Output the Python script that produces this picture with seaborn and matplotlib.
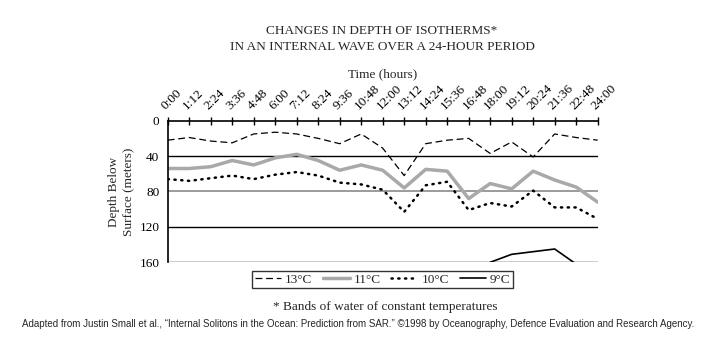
import matplotlib
matplotlib.use("Agg")
import matplotlib.pyplot as plt
import seaborn as sns
import numpy as np

tick_labels = ["0:00", "1:12", "2:24", "3:36", "4:48", "6:00", "7:12", "8:24", "9:36",
               "10:48", "12:00", "13:12", "14:24", "15:36", "16:48", "18:00", "19:12",
               "20:24", "21:36", "22:48", "24:00"]
hours = [0.0, 1.2, 2.4, 3.6, 4.8, 6.0, 7.2, 8.4, 9.6, 10.8, 12.0, 13.2, 14.4, 15.6,
         16.8, 18.0, 19.2, 20.4, 21.6, 22.8, 24.0]

depth_13 = [22, 19, 23, 25, 15, 13, 15, 20, 26, 15, 31, 62, 26, 22, 20, 37, 24, 41, 15, 19, 22]
depth_11 = [54, 54, 52, 45, 50, 42, 38, 45, 56, 50, 56, 76, 55, 57, 88, 71, 77, 57, 67, 75, 92]
depth_10 = [66, 68, 65, 62, 66, 61, 58, 62, 70, 72, 78, 103, 73, 69, 101, 93, 97, 79, 98, 98, 111]
hours_9 = [18.0, 19.2, 20.4, 21.6, 22.8]
depth_9 = [160, 151, 148, 145, 162]

depth_ticks = [0, 40, 80, 120, 160]

sns.set_theme(style="white")
plt.rcParams['font.family'] = ['Liberation Serif', 'DejaVu Serif']

fig = plt.figure(figsize=(7.18, 3.38), dpi=100)
ax = fig.add_axes([0.2336, 0.224, 0.8324 - 0.2336, 0.6429 - 0.224])

for d, c, lw in [(40, 'black', 1.0), (80, '#8a8a8a', 1.2), (120, 'black', 1.0), (160, 'black', 1.0)]:
    ax.axhline(d, color=c, lw=lw, zorder=1)

sns.lineplot(x=hours, y=depth_13, ax=ax, color='black', lw=0.9,
             linestyle=(0, (5.5, 3)), label='13°C', zorder=3)
sns.lineplot(x=hours, y=depth_11, ax=ax, color='#a9a9a9', lw=2.5,
             label='11°C', zorder=2)
sns.lineplot(x=hours, y=depth_10, ax=ax, color='black', lw=1.8,
             linestyle=(0, (0.5, 2.2)), label='10°C', zorder=3)
ax.lines[-1].set_dash_capstyle('round')
sns.lineplot(x=hours_9, y=depth_9, ax=ax, color='black', lw=1.2,
             label='9°C', zorder=3)

ax.set_xlim(0, 24)
ax.set_ylim(160, 0)
ax.set_xticks(hours)
ax.set_xticklabels(tick_labels, rotation=45, ha='left', va='bottom',
                   rotation_mode='anchor', fontsize=9.5)
ax.xaxis.tick_top()
ax.xaxis.set_label_position('top')
ax.set_yticks(depth_ticks)
ax.set_yticklabels([str(t) for t in depth_ticks], fontsize=9.5)
ax.tick_params(axis='x', direction='inout', length=6, width=1, pad=3, colors='black')
ax.tick_params(axis='y', direction='out', length=4, width=1, pad=2, colors='black')
for s in ['right', 'bottom']:
    ax.spines[s].set_visible(False)
for s in ['top', 'left']:
    ax.spines[s].set_color('black')
    ax.spines[s].set_linewidth(1.2)

ax.set_xlabel('Time (hours)', fontsize=9.5, labelpad=4)
ax.set_ylabel('Depth Below\nSurface (meters)', fontsize=9.5, labelpad=3, linespacing=1.35)

leg = ax.legend(loc='center', bbox_to_anchor=(0.5, -0.121), ncol=4, frameon=True,
                fancybox=False, edgecolor='black', fontsize=9.5, handlelength=2.0,
                handletextpad=0.3, columnspacing=0.8, borderpad=0.2, borderaxespad=0)
leg.get_frame().set_linewidth(1.0)

fig.text(0.532, 0.908, 'CHANGES IN DEPTH OF ISOTHERMS*', ha='center', va='center', fontsize=9.5)
fig.text(0.532, 0.860, 'IN AN INTERNAL WAVE OVER A 24-HOUR PERIOD', ha='center', va='center', fontsize=9.5)
fig.text(0.537, 0.092, '* Bands of water of constant temperatures', ha='center', va='center', fontsize=9.5)
fig.text(0.499, 0.040,
         'Adapted from Justin Small et al., \u201cInternal Solitons in the Ocean: Prediction from SAR.\u201d \u00a91998 by Oceanography, Defence Evaluation and Research Agency.',
         ha='center', va='center', fontsize=7.0, family=['Liberation Sans', 'DejaVu Sans'])

fig.savefig('out.png', dpi=100)
